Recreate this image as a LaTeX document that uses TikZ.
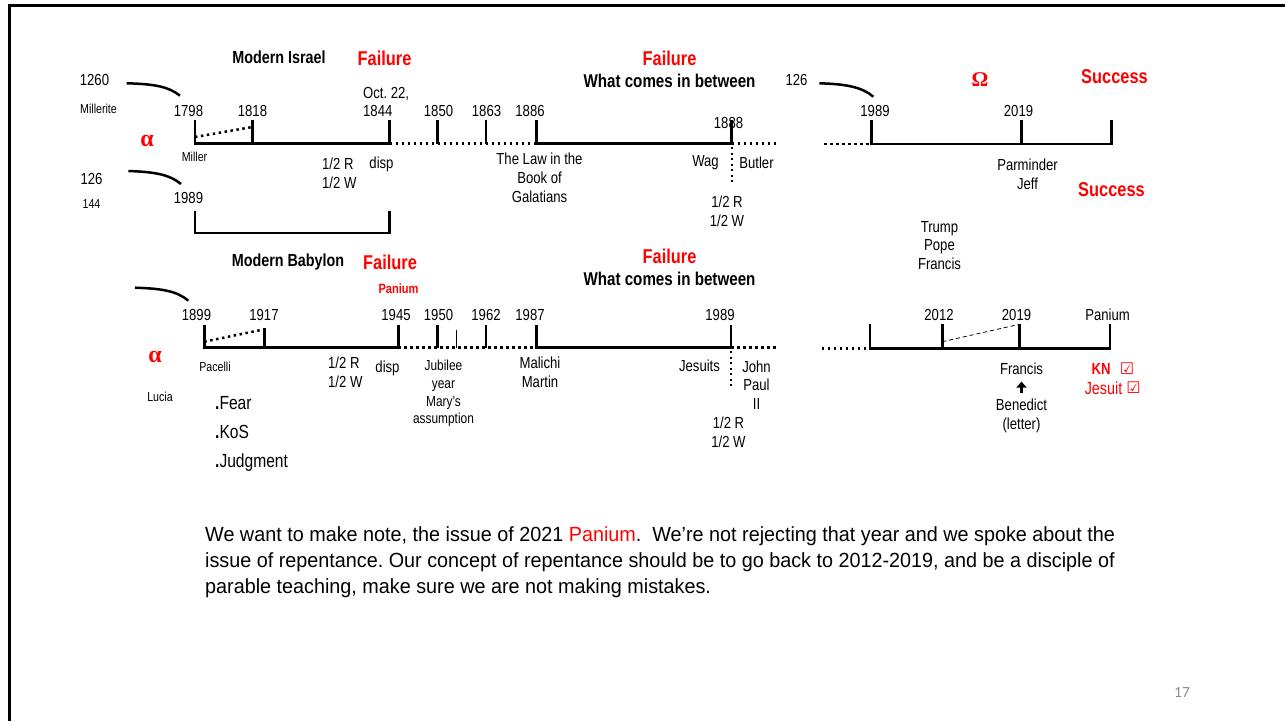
\documentclass[tikz,border=0pt]{standalone}
\usepackage{fontspec}
\setmainfont{Liberation Sans}[FakeStretch=0.82]
\newfontfamily\bodyfont{Liberation Sans}[FakeStretch=0.965]
\newfontfamily\greekfont{Liberation Serif}
\newfontfamily\boxfont{DejaVu Sans}
\newfontfamily\pagefont{Carlito}
\usetikzlibrary{arrows.meta, positioning}
\frenchspacing

\definecolor{pagegray}{RGB}{140,140,140}

\tikzset{
  yr/.style={font=\fontsize{16}{19}\selectfont, inner sep=0pt, align=center},
  small/.style={font=\fontsize{13}{15}\selectfont, inner sep=0pt, align=center},
  head/.style={font=\bfseries\fontsize{17.5}{20}\selectfont, inner sep=0pt},
  fail/.style={font=\bfseries\fontsize{20}{22}\selectfont, text=red, inner sep=0pt},
  greek/.style={font=\greekfont\bfseries\fontsize{24}{26}\selectfont, text=red, inner sep=0pt},
  body/.style={font=\bodyfont\fontsize{20.5}{26}\selectfont, inner sep=0pt, anchor=base west},
  bar/.style={line width=2.5pt},
  dotbar/.style={line width=2.5pt, dash pattern=on 2.5pt off 3.5pt},
  dotvert/.style={line width=2pt, dash pattern=on 2pt off 3.5pt},
  thindash/.style={line width=0.8pt, dash pattern=on 4pt off 3pt},
  hook/.style={line width=2.5pt},
  upar/.style={-{Triangle[length=6pt,width=10pt]}, line width=2.8pt, shorten >=7pt, shorten <=6pt},
}

\begin{document}
\begin{tikzpicture}[x=1pt, y=-1pt]
\useasboundingbox (0,0) rectangle (1285,721);

% slide frame
\draw[line width=3pt] (9,721) -- (9,5.5) -- (1285,5.5);

% ---------- modern israel ----------
\node[head] (isr) at (279,57) {Modern Israel};
\node[fail] (isrfail) at (384.5,58.5) {Failure};
\node[fail] (midfail) at (669.5,58.5) {Failure};
\node[head, font=\bfseries\fontsize{18.5}{20}\selectfont] (midwhat) at (669.5,80.5) {What comes in between};

\node[yr] (n1260) at (94.5,80) {1260};
\node[small] (millerite) at (98.5,109) {Millerite};
\node[yr] (n126a) at (91.5,179) {126};
\node[small] (n144) at (91.5,204) {144};
\node[greek] (alpha1) at (147,141) {α};
\node[small] (miller) at (194.5,157) {Miller};

\node[yr] (y1798) at (188.5,111) {1798};
\node[yr] (y1818) at (252.5,111) {1818};
\node[yr, align=left, anchor=west, font=\fontsize{16}{18.3}\selectfont] (y1844) at (363,102) {Oct. 22,\\1844};
\node[yr] (y1850) at (438.5,111) {1850};
\node[yr] (y1863) at (486.5,111) {1863};
\node[yr] (y1886) at (530,111) {1886};
\node[yr] (y1888) at (728.5,122.5) {1888};
\node[yr] (y1989a) at (188.5,197.5) {1989};

\node[yr, align=left, anchor=west] (halfa) at (322,173.5) {1/2 R\\1/2 W};
\node[yr] (dispa) at (381.5,164) {disp};
\node[yr] (galat) at (539.5,177.5) {The Law in the\\Book of\\Galatians};
\node[yr] (wag) at (705.5,162.5) {Wag};
\node[yr] (butler) at (756.5,162.5) {Butler};
\node[yr] (halfb) at (727,211) {1/2 R\\1/2 W};

% hooks
\draw[hook] (126.7,83.3) .. controls (156,84) and (169,87) .. (180,95.7);
\draw[hook] (128.3,171) .. controls (157,172) and (170,175) .. (181,184);

% timeline
\draw[bar] (195,120) -- (195,143.5) -- (389.5,143.5) -- (389.5,120);
\draw[bar] (252.3,120) -- (252.3,143.5);
\draw[dotbar] (389.5,143.5) -- (536.7,143.5);
\draw[bar] (437.7,120) -- (437.7,143.5);
\draw[bar] (486,120) -- (486,143.5);
\draw[bar] (536.7,120) -- (536.7,143.5) -- (731.7,143.5);
\draw[bar] (731.7,120) -- (731.7,143.5);
\draw[dotbar] (731.7,143.5) -- (777,143.5);
\draw[dotbar] (195,137) -- (252.3,127);
\draw[dotvert] (731.7,147) -- (731.7,183);

% bracket 1798 - 1844
\draw[bar] (195,211) -- (195,233) -- (389.5,233) -- (389.5,211);

% ---------- right part, top ----------
\node[yr] (n126b) at (796.5,80) {126};
\node[greek, font=\greekfont\bfseries\fontsize{21}{23}\selectfont] (omega) at (980,79.5) {Ω};
\node[fail] (succ1) at (1114.5,77) {Success};
\node[yr] (y1989b) at (875,111) {1989};
\node[yr] (y2019a) at (1018.5,111) {2019};
\node[yr] (parm) at (1027.5,174) {Parminder\\Jeff};
\node[fail] (succ2) at (1111.5,190) {Success};
\node[yr, font=\fontsize{16}{18.5}\selectfont] (trump) at (939.5,245.5) {Trump\\Pope\\Francis};

\draw[hook] (819.3,83.3) .. controls (846,84) and (862,87) .. (873.3,96.7);
\draw[dotbar] (824,144) -- (871.7,144);
\draw[bar] (871.7,120) -- (871.7,144) -- (1111.7,144) -- (1111.7,120);
\draw[bar] (1021.7,120) -- (1021.7,144);

% ---------- modern babylon ----------
\node[head] (bab) at (288,262) {Modern Babylon};
\node[fail] (babfail) at (390,262.5) {Failure};
\node[small, font=\bfseries\fontsize{13.5}{15}\selectfont, text=red] (panium) at (398.5,288.5) {Panium};
\node[fail] (midfail2) at (669.5,256) {Failure};
\node[head, font=\bfseries\fontsize{18.5}{20}\selectfont] (midwhat2) at (669.5,278.5) {What comes in between};

\node[greek] (alpha2) at (155,356.5) {α};
\node[small] (pacelli) at (215,366.5) {Pacelli};
\node[small] (lucia) at (160,396.5) {Lucia};

\node[yr] (y1899) at (196.5,315) {1899};
\node[yr] (y1917) at (264,315) {1917};
\node[yr] (y1945) at (396,315) {1945};
\node[yr] (y1950) at (438.5,315) {1950};
\node[yr] (y1962) at (486,315) {1962};
\node[yr] (y1987) at (530,315) {1987};
\node[yr] (y1989c) at (720,315) {1989};

\node[yr, align=left, anchor=west] (halfc) at (328,372.5) {1/2 R\\1/2 W};
\node[yr] (dispb) at (387.5,368) {disp};
\node[yr, font=\fontsize{14.5}{17.8}\selectfont] (jubilee) at (443.5,393.5) {Jubilee\\year\\Mary's\\assumption};
\node[yr] (malichi) at (540,372.5) {Malichi\\Martin};
\node[yr] (jesuits) at (699.5,366) {Jesuits};
\node[yr, font=\fontsize{16}{18.7}\selectfont] (jp) at (756.5,385) {John\\Paul\\II};
\node[yr] (halfd) at (728.5,432.5) {1/2 R\\1/2 W};
\node[yr, align=left, anchor=west, font=\fontsize{19}{29}\selectfont] (points) at (215,434) {\textbf{.}Fear\\\textbf{.}KoS\\\textbf{.}Judgment};

\draw[hook] (135,287.7) .. controls (162,288.5) and (177,291) .. (188.3,300.7);

% timeline
\draw[bar] (204.3,325) -- (204.3,347.7) -- (398.3,347.7) -- (398.3,325);
\draw[bar] (264.3,328.3) -- (264.3,347.7);
\draw[dotbar] (398.3,347.7) -- (536.7,347.7);
\draw[bar] (437.7,325) -- (437.7,347.7);
\draw[line width=0.8pt] (456,330) -- (456,347.7);
\draw[bar] (486,325) -- (486,347.7);
\draw[bar] (536.7,325) -- (536.7,347.7) -- (731,347.7) -- (731,325);
\draw[dotbar] (731,347.7) -- (776.7,347.7);
\draw[dotvert] (731,351) -- (731,386.7);
\draw[dotbar] (204.3,341.7) -- (264.3,329.3);

% ---------- right part, bottom ----------
\node[yr] (y2012) at (939,314.5) {2012};
\node[yr] (y2019b) at (1016.5,314.5) {2019};
\node[yr] (panend) at (1107.5,314.5) {Panium};
\node[yr] (franc) at (1021.5,368.5) {Francis};
\node[yr] (bened) at (1021.5,416) {Benedict\\(letter)};
\node[yr, font=\bfseries\fontsize{16}{18}\selectfont, text=red] (kn) at (1101,368.5) {KN};
\node[inner sep=0pt, font=\boxfont\fontsize{16}{18}\selectfont, text=red] (knbox) at (1127,368.5) {☑};
\node[yr, font=\fontsize{17.5}{19}\selectfont, text=red] (jes) at (1103.5,388) {Jesuit};
\node[inner sep=0pt, font=\boxfont\fontsize{16}{18}\selectfont, text=red] (jesbox) at (1133.5,388) {☑};

\draw[upar] (bened.north) -- (franc.south);
\draw[dotbar] (821.7,348.3) -- (870,348.3);
\draw[bar] (870,324.3) -- (870,348.3) -- (1110,348.3) -- (1110,324.3);
\draw[bar] (942.3,324.3) -- (942.3,348.3);
\draw[bar] (1019.3,324.3) -- (1019.3,348.3);
\draw[thindash] (942.3,341.7) -- (1019.3,324.3);

% ---------- note ----------
\node[body] (note1) at (205,541) {We want to make note, the issue of 2021 \textcolor{red}{Panium}.\ \ We’re not rejecting that year and we spoke about the};
\node[body] (note2) at (205,567) {issue of repentance. Our concept of repentance should be to go back to 2012-2019, and be a disciple of};
\node[body] (note3) at (205,593) {parable teaching, make sure we are not making mistakes.};

% page number
\node[inner sep=0pt, font=\pagefont\fontsize{15.5}{17}\selectfont, text=pagegray] (pg) at (1182,692) {17};
\end{tikzpicture}
\end{document}
